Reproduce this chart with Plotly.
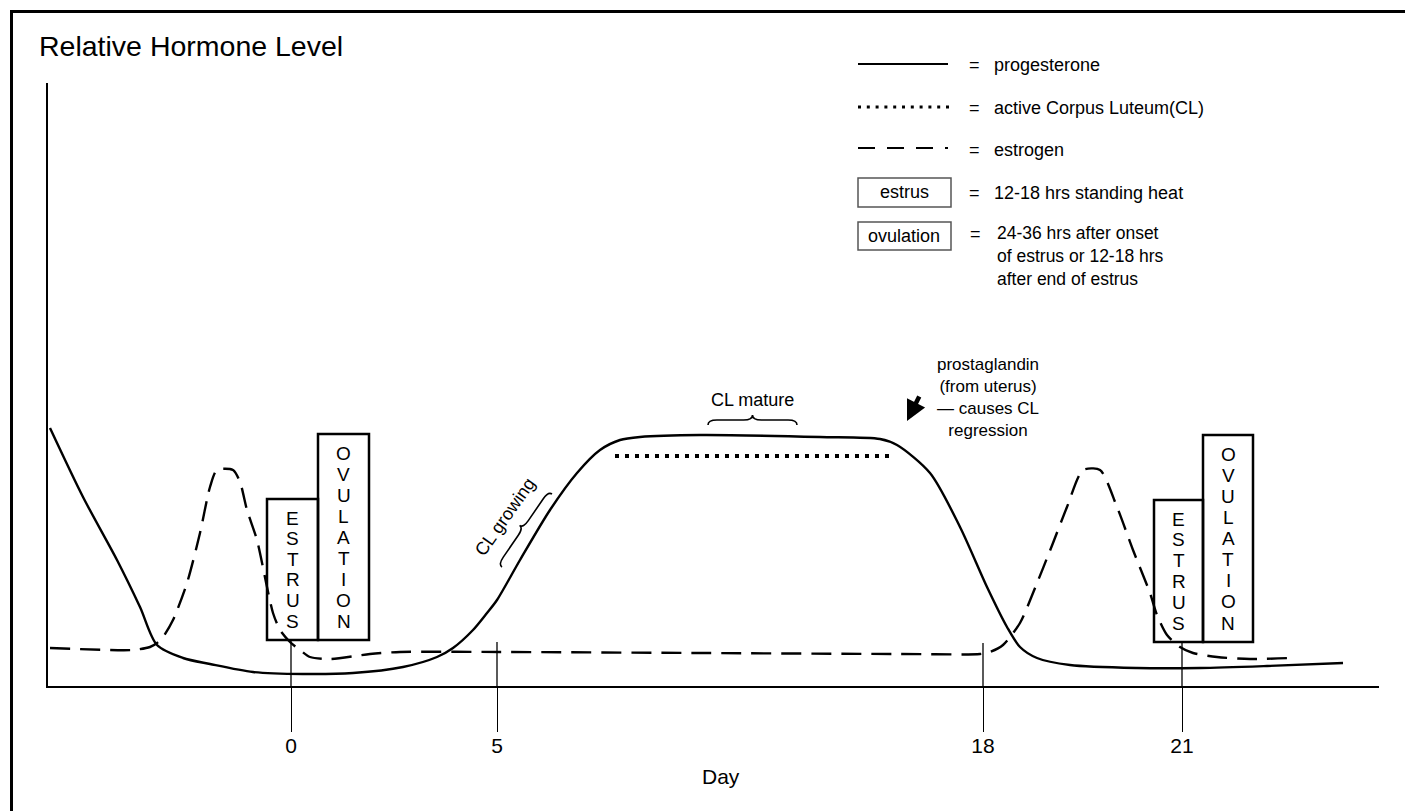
import plotly.graph_objects as go

# ---------------- data ----------------
# x: position along the schematic time axis, y: relative hormone level (arbitrary units)
prog_x = [50, 83, 117, 140, 157, 183, 210, 253, 303, 353, 403, 437, 453, 473, 487,
          497, 520, 550, 577, 600, 620, 640, 700, 820, 880, 897, 930, 960, 987, 1007,
          1020, 1037, 1070, 1137, 1200, 1267, 1343]
prog_y = [258, 189, 126, 79, 41, 28, 22, 14, 12, 13, 19, 29, 38, 56, 73,
          86, 126, 176, 213, 236, 246, 249, 251, 249, 247, 241, 213, 159, 99, 59,
          39, 28, 21, 18, 18, 20, 23]

estr_x = [50, 133, 150, 157, 163, 173, 187, 200, 210, 217, 233, 240, 247, 257, 267,
          273, 280, 290, 300, 310, 330, 370, 400, 500, 700, 900, 980, 990, 1003, 1020,
          1033, 1053, 1067, 1083, 1100, 1117, 1133, 1150, 1157, 1167, 1180, 1193, 1217,
          1250, 1290]
estr_y = [38, 36, 39, 43, 49, 66, 103, 153, 199, 216, 216, 204, 176, 146, 99,
          73, 56, 44, 36, 29, 27, 32, 34, 34, 33, 32, 32, 34, 41, 63,
          93, 143, 179, 216, 216, 179, 136, 93, 71, 51, 39, 33, 29,
          27, 28]

cl_x = [615, 890]          # active corpus luteum
cl_y = [230, 230]

day_pos = [291, 497, 983, 1182]
day_labels = ["0", "5", "18", "21"]
tick_top = [46, 44, 43, 44]

estrus_x0 = [267, 1154]
estrus_x1 = [318, 1203]
estrus_bottom = [46, 44]
estrus_top = [187, 186]

ovul_x0 = [318, 1203]
ovul_x1 = [369, 1253]
ovul_bottom = [46, 44]
ovul_top = [252, 251]

# ---------------- layout geometry ----------------
W, H = 1405, 811
ML, MR, MT, MB = 48, 26, 83, 125
PW, PH = W - ML - MR, H - MT - MB
FONT = "Liberation Sans, Arial, Helvetica, sans-serif"


def pxp(px):
    return (px - ML) / PW


def pyp(py):
    return (H - MB - py) / PH


def ydat(py):
    return H - MB - py


fig = go.Figure()

# inner parts of the day markers
tx, ty = [], []
for p, t in zip(day_pos, tick_top):
    tx += [p, p, None]
    ty += [0, t, None]
fig.add_trace(go.Scatter(x=tx, y=ty, mode="lines",
                         line=dict(color="black", width=1.3), hoverinfo="skip"))

fig.add_trace(go.Scatter(x=estr_x, y=estr_y, mode="lines", name="estrogen",
                         line=dict(color="black", width=2.4, dash="20px,10px",
                                   shape="spline", smoothing=0.7),
                         hoverinfo="skip"))
fig.add_trace(go.Scatter(x=prog_x, y=prog_y, mode="lines", name="progesterone",
                         line=dict(color="black", width=2.4, shape="spline", smoothing=0.8),
                         hoverinfo="skip"))
fig.add_trace(go.Scatter(x=cl_x, y=cl_y, mode="lines", name="active CL",
                         line=dict(color="black", width=4, dash="4px,6px"),
                         hoverinfo="skip"))

shapes = []
annotations = []


def ann(**kw):
    kw.setdefault("showarrow", False)
    kw.setdefault("xanchor", "center")
    kw.setdefault("yanchor", "middle")
    annotations.append(kw)


# estrus / ovulation boxes with stacked letters
def stacked(word, xc, bottom, top):
    n = len(word)
    y_hi = top - 19
    y_lo = bottom + 19
    for i, ch in enumerate(word):
        yy = y_hi - i * (y_hi - y_lo) / (n - 1)
        ann(x=xc, y=yy, xref="x", yref="y", text=ch,
            font=dict(size=19, color="black", family=FONT))


for i in range(2):
    shapes.append(dict(type="rect", xref="x", yref="y", x0=estrus_x0[i], x1=estrus_x1[i],
                       y0=estrus_bottom[i], y1=estrus_top[i],
                       line=dict(color="black", width=2.5)))
    shapes.append(dict(type="rect", xref="x", yref="y", x0=ovul_x0[i], x1=ovul_x1[i],
                       y0=ovul_bottom[i], y1=ovul_top[i],
                       line=dict(color="black", width=2.5)))
    stacked("ESTRUS", (estrus_x0[i] + estrus_x1[i]) / 2, estrus_bottom[i], estrus_top[i])
    stacked("OVULATION", (ovul_x0[i] + ovul_x1[i]) / 2, ovul_bottom[i], ovul_top[i])


# curly braces
def brace(x0, y0, x1, y1, h):
    dx, dy = x1 - x0, y1 - y0
    L = (dx * dx + dy * dy) ** 0.5
    tx_, ty_ = dx / L, dy / L
    nx, ny = -ty_, tx_

    def p(u, v):
        return f"{x0 + u * tx_ + v * nx:.2f},{y0 + u * ty_ + v * ny:.2f}"
    return (f"M {p(0, 0)} Q {p(0, h / 2)} {p(0.1 * L, h / 2)} L {p(0.4 * L, h / 2)} "
            f"Q {p(0.5 * L, h / 2)} {p(0.5 * L, h)} Q {p(0.5 * L, h / 2)} {p(0.6 * L, h / 2)} "
            f"L {p(0.9 * L, h / 2)} Q {p(L, h / 2)} {p(L, 0)}")


shapes.append(dict(type="path", xref="x", yref="y", path=brace(708, ydat(425), 797, ydat(425), 10),
                   line=dict(color="black", width=1.6)))
shapes.append(dict(type="path", xref="x", yref="y", path=brace(502, ydat(567), 552, ydat(494), 9),
                   line=dict(color="black", width=1.6)))

ann(x=752, y=ydat(400), xref="x", yref="y", text="CL mature",
    font=dict(size=18, color="black", family=FONT))
ann(x=505, y=ydat(517), xref="x", yref="y", text="CL growing", textangle=-55,
    font=dict(size=18, color="black", family=FONT))
ann(x=988, y=ydat(397), xref="x", yref="y",
    text="prostaglandin<br>(from uterus)<br>— causes CL<br>regression", align="center",
    font=dict(size=17, color="black", family=FONT))
annotations.append(dict(x=907, y=ydat(421), xref="x", yref="y", text="",
                        showarrow=True, ax=13, ay=-26, arrowhead=2, arrowsize=0.9,
                        arrowwidth=4.5, arrowcolor="black"))

# axis captions
ann(x=pxp(37), y=pyp(46), xref="paper", yref="paper", text="Relative Hormone Level",
    xanchor="left", font=dict(size=28.5, color="black", family=FONT))
ann(x=pxp(721), y=pyp(776), xref="paper", yref="paper", text="Day",
    font=dict(size=21, color="black", family=FONT))

# legend (drawn manually)
lx0 = 858
shapes.append(dict(type="line", xref="paper", yref="paper", x0=pxp(lx0), x1=pxp(948),
                   y0=pyp(64), y1=pyp(64), line=dict(color="black", width=2)))
shapes.append(dict(type="line", xref="paper", yref="paper", x0=pxp(lx0), x1=pxp(950),
                   y0=pyp(107), y1=pyp(107), line=dict(color="black", width=3, dash="3px,5.8px")))
shapes.append(dict(type="line", xref="paper", yref="paper", x0=pxp(lx0), x1=pxp(949),
                   y0=pyp(148), y1=pyp(148),
                   line=dict(color="black", width=2.2,
                             dash="17px,12px,17px,12px,17px,12px,3px,40px")))
shapes.append(dict(type="rect", xref="paper", yref="paper", x0=pxp(lx0), x1=pxp(951),
                   y0=pyp(207), y1=pyp(178), line=dict(color="#555555", width=1.5)))
shapes.append(dict(type="rect", xref="paper", yref="paper", x0=pxp(lx0), x1=pxp(951),
                   y0=pyp(250), y1=pyp(222), line=dict(color="#555555", width=1.5)))

leg_font = dict(size=18, color="black", family=FONT)
ann(x=pxp(904), y=pyp(192), xref="paper", yref="paper", text="estrus", font=leg_font)
ann(x=pxp(904), y=pyp(236), xref="paper", yref="paper", text="ovulation", font=leg_font)
rows = [(65, "progesterone"), (108, "active Corpus Luteum(CL)"), (150, "estrogen"),
        (193, "12-18 hrs standing heat")]
for yy, txt in rows:
    ann(x=pxp(974), y=pyp(yy), xref="paper", yref="paper", text="=", font=leg_font)
    ann(x=pxp(992), y=pyp(yy), xref="paper", yref="paper", text=txt, xanchor="left",
        font=leg_font)
ann(x=pxp(975), y=pyp(234), xref="paper", yref="paper", text="=", font=leg_font)
ann(x=pxp(995), y=pyp(256), xref="paper", yref="paper",
    text="24-36 hrs after onset<br>of estrus or 12-18 hrs<br>after end of estrus",
    xanchor="left", align="left", font=dict(size=17.5, color="black", family=FONT))

# outer frame: only the left and top edges fall inside the picture
frame = dict(color="black", width=3)
shapes.append(dict(type="line", xref="paper", yref="paper", x0=pxp(11.5), x1=pxp(11.5),
                   y0=pyp(860), y1=pyp(10), line=frame))
shapes.append(dict(type="line", xref="paper", yref="paper", x0=pxp(10), x1=pxp(1420),
                   y0=pyp(11.5), y1=pyp(11.5), line=frame))

fig.update_layout(
    width=W, height=H,
    margin=dict(l=ML, r=MR, t=MT, b=MB, pad=0),
    paper_bgcolor="white", plot_bgcolor="white",
    showlegend=False,
    shapes=shapes, annotations=annotations,
    font=dict(family=FONT, color="black"),
    xaxis=dict(range=[ML, W - MR], showgrid=False, zeroline=False,
               showline=True, linecolor="black", linewidth=2,
               tickmode="array", tickvals=day_pos, ticktext=day_labels,
               ticks="outside", ticklen=44, tickwidth=1.3, tickcolor="black",
               ticklabelstandoff=-4,
               tickfont=dict(size=21, color="black", family=FONT), fixedrange=True),
    yaxis=dict(range=[0, PH], showgrid=False, zeroline=False,
               showline=True, linecolor="black", linewidth=2,
               showticklabels=False, ticks="", fixedrange=True),
    hovermode=False,
)

fig.write_html("out.html", config={"displayModeBar": False},
               post_script="document.body.style.margin='0';document.body.style.overflow='hidden';")
